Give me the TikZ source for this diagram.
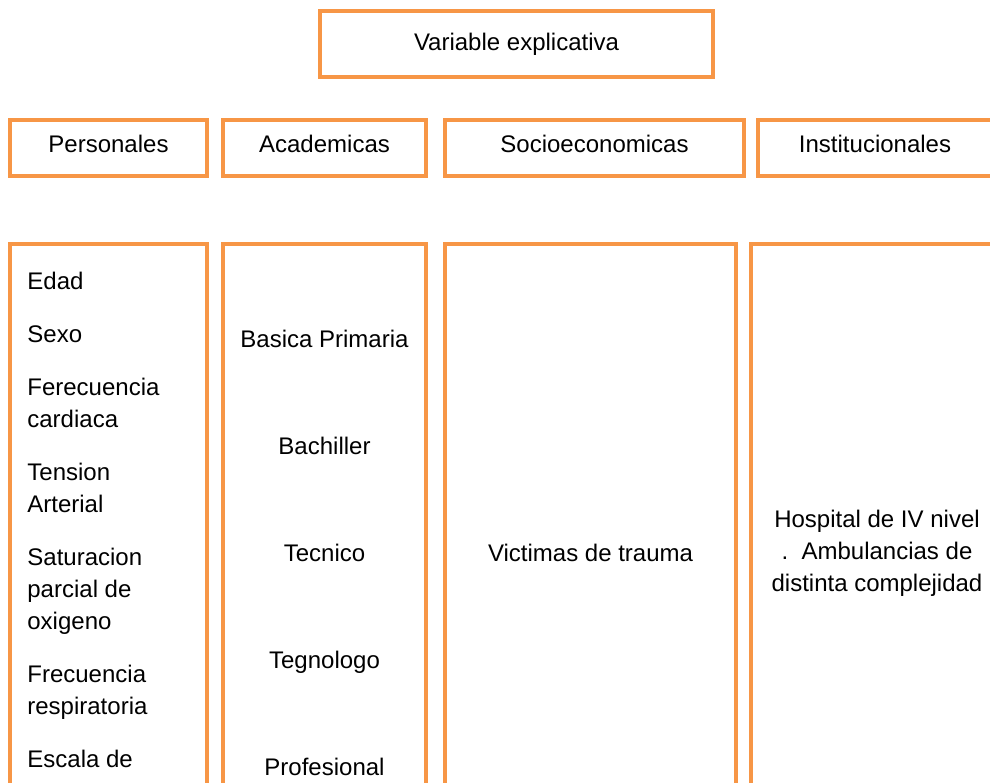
\documentclass[tikz,border=0pt]{standalone}
\usepackage{fontspec}
\setmainfont{Liberation Sans}
\definecolor{boxorange}{HTML}{F79646}
\tikzstyle{box} = [rectangle, draw=boxorange, line width=2pt, outer sep=0pt, inner sep=0pt, anchor=north west, text centered, align=center, font=\fontsize{12}{16}\selectfont]
\tikzstyle{head} = [box, minimum height=28pt, text height=8pt, text depth=4pt]
\tikzstyle{column} = [box, minimum height=309pt]
\tikzstyle{items} = [inner sep=0pt, anchor=north west, align=left, font=\fontsize{12}{16}\selectfont]

\begin{document}
\begin{tikzpicture}[x=0.5pt, y=-0.5pt]
\useasboundingbox (0,0) rectangle (990,782);
\clip (0,0) rectangle (990,782);

% top
\node (var) [box, minimum width=196.5pt, minimum height=33pt] at (320,11) {Variable explicativa};

% groups
\node (pers) [head, minimum width=98.5pt] at (10,120) {Personales};
\node (acad) [head, minimum width=101.5pt] at (223,120) {Academicas};
\node (socio) [head, minimum width=149.5pt] at (445,120) {Socioeconomicas};
\node (inst) [head, minimum width=117pt] at (758,120) {Institucionales};

% values
\node (perscol) [column, minimum width=98.5pt] at (10,244) {};
\node (perslist) [items] at (27,272) {Edad\\[10.5pt]
Sexo\\[10.5pt]
Ferecuencia\\cardiaca\\[10.5pt]
Tension\\Arterial\\[10.5pt]
Saturacion\\parcial de\\oxigeno\\[10.5pt]
Frecuencia\\respiratoria\\[10.5pt]
Escala de};
\node (acadcol) [column, minimum width=101.5pt] at (223,244) {Basica Primaria\\[37.4pt]
Bachiller\\[37.4pt]
Tecnico\\[37.4pt]
Tegnologo\\[37.4pt]
Profesional};
\node (sociocol) [column, minimum width=145.5pt] at (445,244) {Victimas de trauma};
\node (instcol) [column, minimum width=126pt] at (751,244) {Hospital de IV nivel\\
.\ \ Ambulancias de\\
distinta complejidad};

\end{tikzpicture}
\end{document}
